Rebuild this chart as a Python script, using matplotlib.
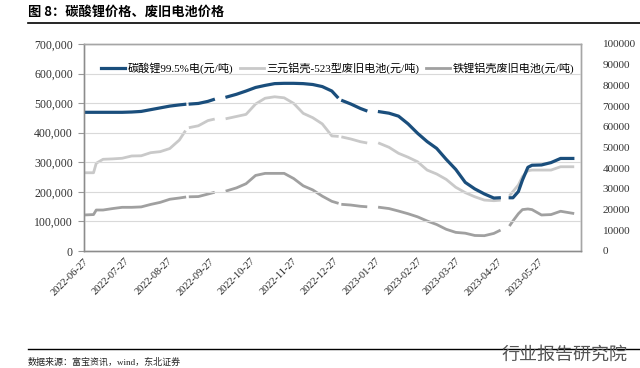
import numpy as np
import pandas as pd
import matplotlib
matplotlib.use("Agg")
import matplotlib.pyplot as pyplot
from matplotlib.lines import Line2D

nan = np.nan

# 日期（节假日处为空值，线条断开）
dates = [
    "2022-06-27", "2022-07-04", "2022-07-06", "2022-07-11", "2022-07-18", "2022-07-25",
    "2022-08-01", "2022-08-08", "2022-08-15", "2022-08-22", "2022-08-29", "2022-09-05",
    "2022-09-09", "2022-09-12", "2022-09-13", "2022-09-19", "2022-09-26", "2022-09-30",
    "2022-10-03", "2022-10-10", "2022-10-17", "2022-10-24", "2022-10-31", "2022-11-07",
    "2022-11-14", "2022-11-21", "2022-11-28", "2022-12-05", "2022-12-12", "2022-12-19",
    "2022-12-26", "2022-12-30", "2023-01-01", "2023-01-03", "2023-01-09", "2023-01-16",
    "2023-01-20", "2023-01-25", "2023-01-30", "2023-02-06", "2023-02-13", "2023-02-20",
    "2023-02-27", "2023-03-06", "2023-03-13", "2023-03-20", "2023-03-27", "2023-04-03",
    "2023-04-10", "2023-04-17", "2023-04-24", "2023-04-28", "2023-04-30", "2023-05-06",
    "2023-05-08", "2023-05-12", "2023-05-15", "2023-05-19", "2023-05-22", "2023-05-29",
    "2023-06-05", "2023-06-12", "2023-06-21",
]

# 千元/吨
li2co3 = [
    469, 469, 469, 469, 469, 469, 470, 472, 478, 484, 490, 494,
    496, nan, 497, 499, 506, 512, nan, 521, 530, 541, 553, 560,
    566, 567, 567, 566, 563, 556, 541, 521, nan, 508, 497, 482,
    475, nan, 471, 466, 456, 430, 398, 370, 347, 310, 276, 232,
    210, 193, 179, 180, nan, 180, 180, 201, 240, 283, 290, 291,
    299, 313, 313,
]
ncm523 = [
    37.8, 37.8, 42.4, 44.3, 44.5, 44.8, 45.9, 46.0, 47.5, 48.0, 49.5, 53.6,
    57.6, nan, 59.7, 60.5, 63.0, 63.6, nan, 64.0, 65.0, 66.0, 71.0, 73.8,
    74.5, 74.0, 71.3, 66.5, 64.4, 61.4, 55.6, 55.4, nan, 55.0, 54.1, 52.8,
    52.3, nan, 52.0, 50.1, 47.2, 45.3, 43.1, 39.1, 37.2, 34.6, 30.8, 28.2,
    26.2, 24.6, 24.3, 24.5, nan, 27.1, 28.7, 31.9, 35.9, 38.8, 39.1, 39.1,
    39.1, 40.7, 40.7,
]
lfp = [
    17.4, 17.6, 19.8, 19.8, 20.5, 21.1, 21.1, 21.3, 22.5, 23.5, 25.0, 25.6,
    26.0, nan, 26.2, 26.3, 27.5, 28.2, nan, 29.1, 30.5, 32.5, 36.5, 37.5,
    37.5, 37.5, 35.0, 31.5, 29.5, 26.5, 24.0, 23.2, nan, 22.5, 22.2, 21.6,
    21.4, nan, 21.1, 20.5, 19.3, 18.0, 16.5, 14.5, 12.8, 10.5, 9.0, 8.6,
    7.5, 7.4, 8.5, 9.8, nan, 12.6, 14.5, 18.0, 20.0, 20.3, 20.0, 17.4,
    17.6, 19.2, 18.2,
]

labels = ["碳酸锂99.5%电(元/吨)", "三元铝壳-523型废旧电池(元/吨)", "铁锂铝壳废旧电池(元/吨)"]
tick_dates = ["2022-06-27", "2022-07-27", "2022-08-27", "2022-09-27", "2022-10-27", "2022-11-27",
              "2022-12-27", "2023-01-27", "2023-02-27", "2023-03-27", "2023-04-27", "2023-05-27"]

SERIF = ["Liberation Serif", "Noto Sans CJK SC"]
CJK = ["Noto Sans CJK SC", "DejaVu Sans"]

x = pd.to_datetime(dates)
fig = pyplot.figure(figsize=(6.4, 3.68), dpi=100)
ax = fig.add_axes([84 / 640, 1 - 251 / 368, 497 / 640, 207 / 368])
ax2 = ax.twinx()

# 灰线在右轴
ax2.plot(x, np.array(ncm523) * 1000, color="#c9c9c9", linewidth=2.0, label=labels[1])
ax2.plot(x, np.array(lfp) * 1000, color="#a0a0a0", linewidth=2.0, label=labels[2])
ax.plot(x, np.array(li2co3) * 1000, color="#1a4e7c", linewidth=2.3, label=labels[0])

# 左轴放到前面，使蓝线在上
ax.set_zorder(ax2.get_zorder() + 1)
ax.patch.set_visible(False)

ax.set_ylim(0, 700000)
ax.set_yticks(np.arange(0, 700001, 100000))
ax.set_yticklabels([f"{v:,}" for v in range(0, 700001, 100000)], family=SERIF, fontsize=8.5, color="#333333")
ax2.set_ylim(0, 100000)
ax2.set_yticks(np.arange(0, 100001, 10000))
ax2.set_yticklabels([str(v) for v in range(0, 100001, 10000)], family=SERIF, fontsize=8, color="#333333")

ax.set_xlim(pd.Timestamp("2022-06-27"), pd.Timestamp("2023-06-27"))
ax.set_xticks(pd.to_datetime(tick_dates))
ax.set_xticklabels(tick_dates, rotation=45, ha="right", rotation_mode="anchor",
                   family=SERIF, fontsize=7.5, color="#222222")

ax.grid(axis="y", color="#d9d9d9", linewidth=0.8)
ax.tick_params(axis="x", length=0, pad=4)
ax.tick_params(axis="y", length=4, color="#999999", pad=4)
ax2.tick_params(axis="y", length=0, pad=15.5)
for a in (ax, ax2):
    for s in a.spines.values():
        s.set_color("#a6a6a6")
        s.set_linewidth(1.0)
ax.spines["left"].set_color("#8c8c8c")
ax.spines["bottom"].set_color("#8c8c8c")

h1, l1 = ax.get_legend_handles_labels()
h2, l2 = ax2.get_legend_handles_labels()
ax.legend(h1 + h2, l1 + l2, loc="center", bbox_to_anchor=(0.51, 0.884), ncol=3, frameon=False,
          prop={"family": SERIF, "size": 8}, handlelength=2.2, handletextpad=0.2,
          columnspacing=0.6, borderaxespad=0)

# 标题、分隔线、来源
fig.text(28 / 640, 1 - 12 / 368, "图 8：碳酸锂价格、废旧电池价格", family=CJK, fontsize=9.5,
         fontweight="bold", va="center", ha="left")
fig.add_artist(Line2D([28 / 640, 1.0], [1 - 23 / 368] * 2, color="black", linewidth=1.2))
fig.add_artist(Line2D([28 / 640, 1.0], [1 - 349 / 368] * 2, color="black", linewidth=1.0))
fig.text(28 / 640, 1 - 362 / 368, "数据来源：富宝资讯，wind，东北证券", family=SERIF, fontsize=6.5,
         va="center", ha="left", color="#222222")
fig.text(1 - 12 / 640, 1 - 355 / 368, "行业报告研究院", family=CJK, fontsize=13, color="#555555",
         va="center", ha="right")

fig.savefig("out.png", dpi=100)
